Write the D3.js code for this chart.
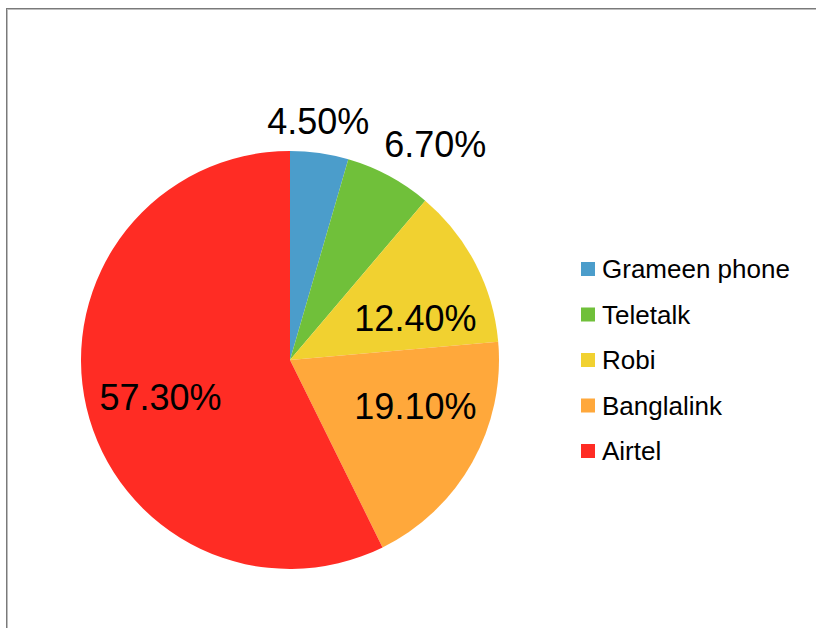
<!DOCTYPE html>
<html>
<head>
<meta charset="utf-8">
<script src="https://cdn.jsdelivr.net/npm/d3@7/dist/d3.min.js"></script>
<style>
html,body{margin:0;padding:0;background:#fff;}
svg{display:block;}
</style>
</head>
<body>
<svg id="chart" width="816" height="628"></svg>
<script>
const categories = ["Grameen phone", "Teletalk", "Robi", "Banglalink", "Airtel"];
const values = [4.5, 6.7, 12.4, 19.1, 57.3];
const labels = ["4.50%", "6.70%", "12.40%", "19.10%", "57.30%"];
const colors = ["#4b9dcb", "#70c03a", "#f1d130", "#ffa83b", "#ff2c24"];
// label anchor positions relative to pie center (in units of radius), per slice
const labelPos = [[0.135, -1.08], [0.695, -0.97], [0.6, -0.14], [0.6, 0.28], [-0.62, 0.24]];

const svg = d3.select("#chart");
const W = 816, H = 628;

// frame
svg.append("rect").attr("x", 6.5).attr("y", 8.5).attr("width", W + 20).attr("height", H + 20)
  .attr("fill", "none").attr("stroke", "#7a7a7a").attr("stroke-width", 1);
svg.append("rect").attr("x", 7.5).attr("y", 9.5).attr("width", W + 20).attr("height", H + 20)
  .attr("fill", "none").attr("stroke", "#bdbdbd").attr("stroke-width", 1);

const cx = 290, cy = 360, r = 209;
const data = categories.map((c, i) => ({name: c, value: values[i], label: labels[i], color: colors[i], lp: labelPos[i]}));
const pie = d3.pie().sort(null).value(d => d.value).startAngle(0).endAngle(2 * Math.PI);
const arc = d3.arc().innerRadius(0).outerRadius(r);
const color = d3.scaleOrdinal().domain(categories).range(colors);

const g = svg.append("g").attr("transform", `translate(${cx},${cy})`);
g.selectAll("path").data(pie(data)).join("path")
  .attr("d", arc).attr("fill", d => color(d.data.name));

g.selectAll("text.lbl").data(pie(data)).join("text")
  .attr("class", "lbl")
  .attr("x", d => d.data.lp[0] * r)
  .attr("y", d => d.data.lp[1] * r)
  .attr("text-anchor", "middle")
  .attr("font-family", "Liberation Sans, Arial, sans-serif")
  .attr("font-size", 36)
  .attr("fill", "#000")
  .text(d => d.data.label);

// legend
const leg = svg.append("g").attr("transform", "translate(581,269)");
const ly = d3.scalePoint().domain(categories).range([0, 182]);
const items = leg.selectAll("g").data(categories).join("g")
  .attr("transform", d => `translate(0,${ly(d)})`);
items.append("rect").attr("x", 0).attr("y", -7).attr("width", 14).attr("height", 14)
  .attr("fill", d => color(d));
items.append("text").attr("x", 21).attr("y", 9)
  .attr("font-family", "Liberation Sans, Arial, sans-serif")
  .attr("font-size", 26).attr("fill", "#000")
  .text(d => d);
</script>
</body>
</html>
